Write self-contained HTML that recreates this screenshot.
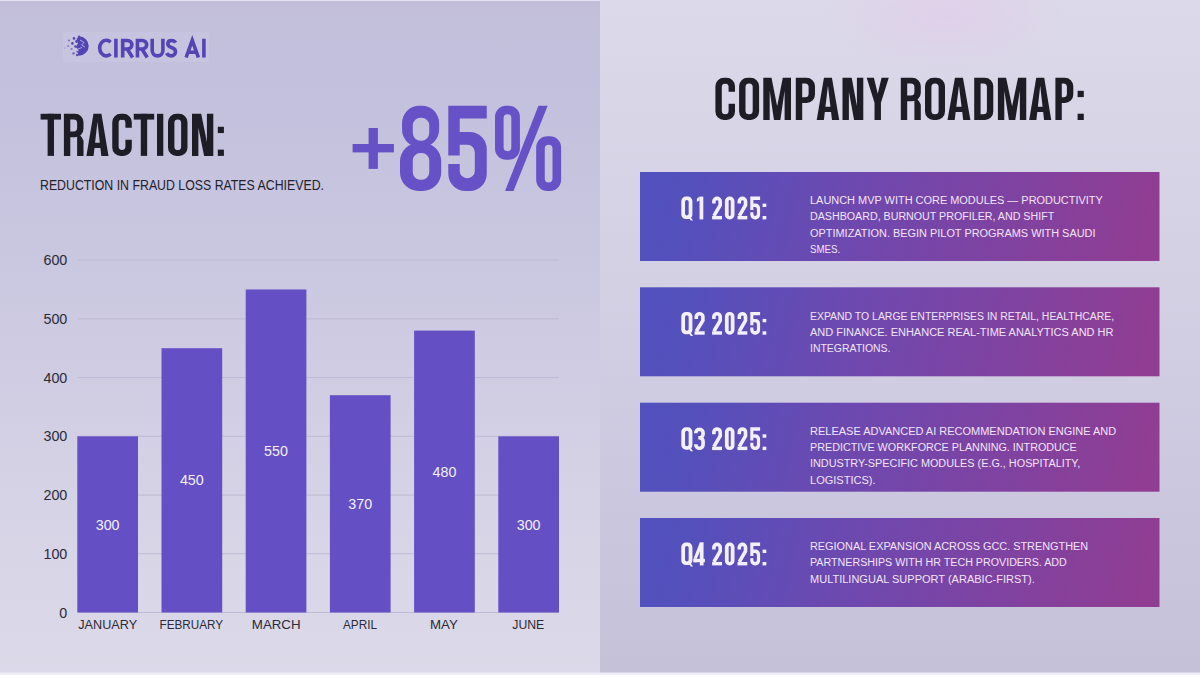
<!DOCTYPE html>
<html><head><meta charset="utf-8"><title>Traction and Roadmap</title>
<style>
html,body{margin:0;padding:0;width:1200px;height:675px;overflow:hidden;background:#d0cde3;}
svg{display:block;}
text{font-family:"Liberation Sans", sans-serif;}
</style></head><body>
<svg width="1200" height="675" viewBox="0 0 1200 675">
<defs>
<linearGradient id="bgL" x1="0" y1="0" x2="0" y2="1">
<stop offset="0" stop-color="#c3bfdb"/>
<stop offset="0.12" stop-color="#c2c0dc"/>
<stop offset="0.43" stop-color="#cbc8e1"/>
<stop offset="0.68" stop-color="#d4d1e5"/>
<stop offset="1" stop-color="#dcdae9"/>
</linearGradient>
<linearGradient id="bgR" x1="0" y1="0" x2="0" y2="1">
<stop offset="0" stop-color="#dcd9ea"/>
<stop offset="0.43" stop-color="#d3d0e4"/>
<stop offset="0.7" stop-color="#ccc8df"/>
<stop offset="1" stop-color="#c5c1d9"/>
</linearGradient>
<radialGradient id="glow" cx="0.5" cy="0.5" r="0.5">
<stop offset="0" stop-color="#e0cfe9" stop-opacity="0.9"/>
<stop offset="1" stop-color="#e0cfe9" stop-opacity="0"/>
</radialGradient>
<linearGradient id="card" x1="0" y1="0" x2="1" y2="0.04">
<stop offset="0" stop-color="#5151bf"/>
<stop offset="0.1" stop-color="#5450bc"/>
<stop offset="0.45" stop-color="#6f48ae"/>
<stop offset="0.95" stop-color="#8d3e95"/>
<stop offset="1" stop-color="#903d93"/>
</linearGradient>
</defs>
<rect x="0" y="0" width="600" height="675" fill="url(#bgL)"/>
<rect x="600" y="0" width="600" height="675" fill="url(#bgR)"/>
<ellipse cx="945" cy="15" rx="120" ry="55" fill="url(#glow)"/>
<rect x="0" y="0" width="600" height="1" fill="#e4e1f4"/>
<rect x="0" y="672.5" width="1200" height="2.5" fill="#eeecf7"/>
<g id="logo">
<rect x="63" y="32" width="146" height="30" fill="#cbc8e3" opacity="0.5"/>
<path d="M79 36.3 A9.7 9.7 0 0 1 79 55.7 L77.5 55 L78.5 50 L76 47 L78 43 L76.5 39 Z" fill="#5245b3"/>
<circle cx="74" cy="38.4" r="1.3" fill="#5548b0"/>
<circle cx="79" cy="36.8" r="1.2" fill="#5548b0"/>
<circle cx="69" cy="40.5" r="1.1" fill="#7d72c4"/>
<circle cx="72.4" cy="43.4" r="1.3" fill="#5548b0"/>
<circle cx="68.2" cy="46" r="1.1" fill="#8a80c8"/>
<circle cx="75.5" cy="46.5" r="1.3" fill="#5548b0"/>
<circle cx="71.6" cy="49" r="1.1" fill="#8076c4"/>
<circle cx="73.5" cy="53.4" r="1.2" fill="#6a5ebb"/>
<circle cx="77" cy="55.2" r="1.1" fill="#5548b0"/>
<circle cx="77.4" cy="51.8" r="1.1" fill="#6a5ebb"/>
<circle cx="76.6" cy="41.5" r="1.4" fill="#5548b0"/>
<circle cx="65" cy="48" r="0.8" fill="#aaa2d6"/>
<path d="M80 40 L84 42.5 L81.5 45 L85 47 M78 49 L82 47.5" stroke="#b9b2ea" stroke-width="0.9" fill="none"/>
<g fill="none" stroke="#5345b3" stroke-width="3.6">
<path d="M110.6 42.2 A6.6 7.8 0 1 0 110.6 54.0"/>
<path d="M115.9 38.75 V57.5"/>
<path d="M122.7 57.5 V40.45 H127.6 A4.3 4.3 0 0 1 127.6 49.05 H122.7 M127.2 49.05 L132.6 57.5"/>
<path d="M137.45 57.5 V40.45 H142.4 A4.3 4.3 0 0 1 142.4 49.05 H137.45 M142 49.05 L147.2 57.5"/>
<path d="M152.2 38.75 V50.6 A5.35 5.3 0 0 0 162.9 50.6 V38.75"/>
<path d="M175.6 42.6 C174.6 40.9 173 40.45 171.4 40.45 C169.1 40.45 167.8 41.9 167.8 43.8 C167.8 46.5 170.4 47.2 172.1 47.8 C174.3 48.5 175.5 49.6 175.5 51.9 C175.5 54.3 173.6 55.85 171.2 55.85 C169.3 55.85 167.6 55 166.6 53.2"/>
<path d="M186.1 57.5 L192.25 40.3 L198.4 57.5 M188.2 52.3 H196.3"/>
<path d="M203.9 38.75 V57.5"/>
</g>
</g>
<path d="M40.60 113.80h20.40v5.79h-20.40Z" fill="#1e1d26" fill-rule="evenodd"/><path d="M47.61 113.80h6.38v42.10h-6.38Z" fill="#1e1d26" fill-rule="evenodd"/><path d="M63.90 113.80H75.02A8.48 8.48 0 0 1 83.50 122.28V128.76A8.48 8.48 0 0 1 75.02 137.24H70.28V155.90H63.90ZM70.28 119.59H73.62A3.49 3.49 0 0 1 77.12 123.08V127.97A3.49 3.49 0 0 1 73.62 131.46H70.28Z" fill="#1e1d26" fill-rule="evenodd"/><path d="M77.12 130.96L82.00 137.74L83.50 140.74L83.50 155.90L77.12 155.90Z" fill="#1e1d26" fill-rule="evenodd"/><path d="M86.40 155.90L93.46 113.80L101.44 113.80L108.50 155.90ZM97.45 121.78L99.82 142.73L95.08 142.73ZM94.48 148.02L100.42 148.02L101.32 155.91L93.58 155.91Z" fill="#1e1d26" fill-rule="evenodd"/><path d="M131.80 127.77V122.28A8.48 8.48 0 0 0 123.32 113.80H120.73A8.48 8.48 0 0 0 112.25 122.28V147.42A8.48 8.48 0 0 0 120.73 155.90H123.32A8.48 8.48 0 0 0 131.80 147.42V139.74H125.42V146.62A3.49 3.49 0 0 1 121.92 150.11H122.13A3.49 3.49 0 0 1 118.63 146.62V123.08A3.49 3.49 0 0 1 122.13 119.59H121.92A3.49 3.49 0 0 1 125.42 123.08V127.77Z" fill="#1e1d26" fill-rule="evenodd"/><path d="M133.75 113.80h20.45v5.79h-20.45Z" fill="#1e1d26" fill-rule="evenodd"/><path d="M140.78 113.80h6.38v42.10h-6.38Z" fill="#1e1d26" fill-rule="evenodd"/><path d="M157.00 113.80h6.30v42.10h-6.30Z" fill="#1e1d26" fill-rule="evenodd"/><path d="M176.48 113.80H179.02A8.48 8.48 0 0 1 187.50 122.28V147.42A8.48 8.48 0 0 1 179.02 155.90H176.48A8.48 8.48 0 0 1 168.00 147.42V122.28A8.48 8.48 0 0 1 176.48 113.80ZM177.75 119.59H177.75A3.37 3.37 0 0 1 181.12 122.95V146.75A3.37 3.37 0 0 1 177.75 150.11H177.75A3.37 3.37 0 0 1 174.38 146.75V122.95A3.37 3.37 0 0 1 177.75 119.59Z" fill="#1e1d26" fill-rule="evenodd"/><path d="M192.00 155.90L192.00 113.80L201.18 113.80L206.92 141.93L206.92 113.80L213.30 113.80L213.30 155.90L204.12 155.90L198.38 127.77L198.38 155.90Z" fill="#1e1d26" fill-rule="evenodd"/><path d="M217.80 126.77h6.10v6.29h-6.10Z" fill="#1e1d26" fill-rule="evenodd"/><path d="M217.80 149.61h6.10v6.29h-6.10Z" fill="#1e1d26" fill-rule="evenodd"/>
<text x="40" y="189.5" font-size="13.8" fill="#23222c" textLength="284" lengthAdjust="spacingAndGlyphs">REDUCTION IN FRAUD LOSS RATES ACHIEVED.</text>
<rect x="352.6" y="144" width="41.3" height="8.4" fill="#6652c6"/><rect x="368.6" y="128" width="9.3" height="40.9" fill="#6652c6"/>
<path d="M419.36 105.70H421.84A17.30 17.30 0 0 1 439.14 123.00V129.68A17.30 17.30 0 0 1 421.84 146.99H419.36A17.30 17.30 0 0 1 402.06 129.68V123.00A17.30 17.30 0 0 1 419.36 105.70ZM420.60 117.64H421.42A7.83 7.83 0 0 1 429.25 125.47V132.84A7.83 7.83 0 0 1 421.42 140.67H420.60A7.83 7.83 0 0 1 412.77 132.84V125.47A7.83 7.83 0 0 1 420.60 117.64Z" fill="#6652c6" fill-rule="evenodd"/><path d="M418.54 142.72H422.66A18.54 18.54 0 0 1 441.20 161.26V172.46A18.54 18.54 0 0 1 422.66 191.00H418.54A18.54 18.54 0 0 1 400.00 172.46V161.26A18.54 18.54 0 0 1 418.54 142.72ZM420.19 153.04H421.84A7.42 7.42 0 0 1 429.25 160.46V172.32A7.42 7.42 0 0 1 421.84 179.74H420.19A7.42 7.42 0 0 1 412.77 172.32V160.46A7.42 7.42 0 0 1 420.19 153.04Z" fill="#6652c6" fill-rule="evenodd"/><path d="M448.30 105.70H486.75V118.50H459.73V131.97H469.69A17.06 17.06 0 0 1 486.75 149.03V173.94A17.06 17.06 0 0 1 469.69 191.00H465.36A17.06 17.06 0 0 1 448.30 173.94V163.96H459.73V170.95A7.25 7.25 0 0 0 466.98 178.21H467.56A7.25 7.25 0 0 0 474.81 170.95V152.02A7.25 7.25 0 0 0 467.56 144.77H459.73V155.52H448.30Z" fill="#6652c6" fill-rule="evenodd"/><path d="M506.21 105.70H508.71A11.21 11.21 0 0 1 519.92 116.91V148.48A11.21 11.21 0 0 1 508.71 159.69H506.21A11.21 11.21 0 0 1 495.00 148.48V116.91A11.21 11.21 0 0 1 506.21 105.70ZM507.46 114.23H507.46A3.87 3.87 0 0 1 511.33 118.10V147.30A3.87 3.87 0 0 1 507.46 151.16H507.46A3.87 3.87 0 0 1 503.59 147.30V118.10A3.87 3.87 0 0 1 507.46 114.23Z" fill="#6652c6" fill-rule="evenodd"/><path d="M547.39 136.32H549.89A11.21 11.21 0 0 1 561.10 147.54V179.79A11.21 11.21 0 0 1 549.89 191.00H547.39A11.21 11.21 0 0 1 536.18 179.79V147.54A11.21 11.21 0 0 1 547.39 136.32ZM548.64 144.85H548.64A3.87 3.87 0 0 1 552.51 148.72V178.60A3.87 3.87 0 0 1 548.64 182.47H548.64A3.87 3.87 0 0 1 544.77 178.60V148.72A3.87 3.87 0 0 1 548.64 144.85Z" fill="#6652c6" fill-rule="evenodd"/><path d="M505.05 191.00L513.51 191.00L547.68 105.70L538.43 105.70Z" fill="#6652c6" fill-rule="evenodd"/>
<text x="67.3" y="617.60" font-size="14.3" fill="#2b2a36" text-anchor="end">0</text>
<line x1="78" y1="553.77" x2="559" y2="553.77" stroke="#bebad3" stroke-width="1"/>
<text x="67.3" y="558.87" font-size="14.3" fill="#2b2a36" text-anchor="end">100</text>
<line x1="78" y1="495.04" x2="559" y2="495.04" stroke="#bebad3" stroke-width="1"/>
<text x="67.3" y="500.14" font-size="14.3" fill="#2b2a36" text-anchor="end">200</text>
<line x1="78" y1="436.31" x2="559" y2="436.31" stroke="#bebad3" stroke-width="1"/>
<text x="67.3" y="441.41" font-size="14.3" fill="#2b2a36" text-anchor="end">300</text>
<line x1="78" y1="377.58" x2="559" y2="377.58" stroke="#bebad3" stroke-width="1"/>
<text x="67.3" y="382.68" font-size="14.3" fill="#2b2a36" text-anchor="end">400</text>
<line x1="78" y1="318.85" x2="559" y2="318.85" stroke="#bebad3" stroke-width="1"/>
<text x="67.3" y="323.95" font-size="14.3" fill="#2b2a36" text-anchor="end">500</text>
<line x1="78" y1="260.12" x2="559" y2="260.12" stroke="#bebad3" stroke-width="1"/>
<text x="67.3" y="265.22" font-size="14.3" fill="#2b2a36" text-anchor="end">600</text>
<line x1="78" y1="612.50" x2="559" y2="612.50" stroke="#bebad3" stroke-width="1"/>
<rect x="77.30" y="436.31" width="60.7" height="176.19" fill="#6450c4"/>
<text x="107.65" y="529.50" font-size="14.3" fill="#f2effa" text-anchor="middle">300</text>
<text x="78.20" y="629.40" font-size="13.5" fill="#2b2a36" textLength="59.0" lengthAdjust="spacingAndGlyphs">JANUARY</text>
<rect x="161.50" y="348.21" width="60.7" height="264.29" fill="#6450c4"/>
<text x="191.85" y="485.46" font-size="14.3" fill="#f2effa" text-anchor="middle">450</text>
<text x="159.50" y="629.40" font-size="13.5" fill="#2b2a36" textLength="63.7" lengthAdjust="spacingAndGlyphs">FEBRUARY</text>
<rect x="245.70" y="289.48" width="60.7" height="323.02" fill="#6450c4"/>
<text x="276.05" y="456.09" font-size="14.3" fill="#f2effa" text-anchor="middle">550</text>
<text x="251.80" y="629.40" font-size="13.5" fill="#2b2a36" textLength="48.8" lengthAdjust="spacingAndGlyphs">MARCH</text>
<rect x="329.90" y="395.20" width="60.7" height="217.30" fill="#6450c4"/>
<text x="360.25" y="508.95" font-size="14.3" fill="#f2effa" text-anchor="middle">370</text>
<text x="343.00" y="629.40" font-size="13.5" fill="#2b2a36" textLength="34.0" lengthAdjust="spacingAndGlyphs">APRIL</text>
<rect x="414.10" y="330.60" width="60.7" height="281.90" fill="#6450c4"/>
<text x="444.45" y="476.65" font-size="14.3" fill="#f2effa" text-anchor="middle">480</text>
<text x="430.00" y="629.40" font-size="13.5" fill="#2b2a36" textLength="27.8" lengthAdjust="spacingAndGlyphs">MAY</text>
<rect x="498.30" y="436.31" width="60.7" height="176.19" fill="#6450c4"/>
<text x="528.65" y="529.50" font-size="14.3" fill="#f2effa" text-anchor="middle">300</text>
<text x="512.30" y="629.40" font-size="13.5" fill="#2b2a36" textLength="32.0" lengthAdjust="spacingAndGlyphs">JUNE</text>
<path d="M735.00 91.80V86.30A8.50 8.50 0 0 0 726.50 77.80H723.90A8.50 8.50 0 0 0 715.40 86.30V111.50A8.50 8.50 0 0 0 723.90 120.00H726.50A8.50 8.50 0 0 0 735.00 111.50V103.80H728.60V110.70A3.50 3.50 0 0 1 725.10 114.20H725.30A3.50 3.50 0 0 1 721.80 110.70V87.10A3.50 3.50 0 0 1 725.30 83.60H725.10A3.50 3.50 0 0 1 728.60 87.10V91.80Z" fill="#1e1d26" fill-rule="evenodd"/><path d="M747.60 77.80H750.60A8.50 8.50 0 0 1 759.10 86.30V111.50A8.50 8.50 0 0 1 750.60 120.00H747.60A8.50 8.50 0 0 1 739.10 111.50V86.30A8.50 8.50 0 0 1 747.60 77.80ZM749.00 83.60H749.20A3.50 3.50 0 0 1 752.70 87.10V110.70A3.50 3.50 0 0 1 749.20 114.20H749.00A3.50 3.50 0 0 1 745.50 110.70V87.10A3.50 3.50 0 0 1 749.00 83.60Z" fill="#1e1d26" fill-rule="evenodd"/><path d="M763.30 120.00L763.30 77.80L771.50 77.80L777.15 106.30L782.80 77.80L791.00 77.80L791.00 120.00L784.60 120.00L784.60 90.80L780.35 120.00L773.95 120.00L769.70 90.80L769.70 120.00Z" fill="#1e1d26" fill-rule="evenodd"/><path d="M795.80 77.80H806.50A8.50 8.50 0 0 1 815.00 86.30V94.50A8.50 8.50 0 0 1 806.50 103.00H802.20V120.00H795.80ZM802.20 83.60H805.10A3.50 3.50 0 0 1 808.60 87.10V93.70A3.50 3.50 0 0 1 805.10 97.20H802.20Z" fill="#1e1d26" fill-rule="evenodd"/><path d="M816.70 120.00L823.95 77.80L831.95 77.80L839.20 120.00ZM827.95 85.80L830.44 106.80L825.46 106.80ZM824.84 112.10L831.06 112.10L832.00 120.01L823.90 120.01Z" fill="#1e1d26" fill-rule="evenodd"/><path d="M842.50 120.00L842.50 77.80L851.70 77.80L856.90 106.00L856.90 77.80L863.30 77.80L863.30 120.00L854.10 120.00L848.90 91.80L848.90 120.00Z" fill="#1e1d26" fill-rule="evenodd"/><path d="M866.70 77.80L873.90 77.80L877.73 93.80L881.55 77.80L888.75 77.80L880.93 102.80L880.93 120.00L874.52 120.00L874.52 102.80Z" fill="#1e1d26" fill-rule="evenodd"/><path d="M900.80 77.80H912.30A8.50 8.50 0 0 1 920.80 86.30V92.80A8.50 8.50 0 0 1 912.30 101.30H907.20V120.00H900.80ZM907.20 83.60H910.90A3.50 3.50 0 0 1 914.40 87.10V92.00A3.50 3.50 0 0 1 910.90 95.50H907.20Z" fill="#1e1d26" fill-rule="evenodd"/><path d="M914.40 95.00L919.30 101.80L920.80 104.80L920.80 120.00L914.40 120.00Z" fill="#1e1d26" fill-rule="evenodd"/><path d="M933.50 77.80H936.50A8.50 8.50 0 0 1 945.00 86.30V111.50A8.50 8.50 0 0 1 936.50 120.00H933.50A8.50 8.50 0 0 1 925.00 111.50V86.30A8.50 8.50 0 0 1 933.50 77.80ZM934.90 83.60H935.10A3.50 3.50 0 0 1 938.60 87.10V110.70A3.50 3.50 0 0 1 935.10 114.20H934.90A3.50 3.50 0 0 1 931.40 110.70V87.10A3.50 3.50 0 0 1 934.90 83.60Z" fill="#1e1d26" fill-rule="evenodd"/><path d="M947.50 120.00L954.95 77.80L962.95 77.80L970.40 120.00ZM958.95 85.80L961.56 106.80L956.34 106.80ZM955.68 112.10L962.22 112.10L963.20 120.01L954.70 120.01Z" fill="#1e1d26" fill-rule="evenodd"/><path d="M974.20 77.80H984.80A8.50 8.50 0 0 1 993.30 86.30V111.50A8.50 8.50 0 0 1 984.80 120.00H974.20ZM980.60 83.60H983.40A3.50 3.50 0 0 1 986.90 87.10V110.70A3.50 3.50 0 0 1 983.40 114.20H980.60Z" fill="#1e1d26" fill-rule="evenodd"/><path d="M997.90 120.00L997.90 77.80L1006.10 77.80L1012.08 106.30L1018.05 77.80L1026.25 77.80L1026.25 120.00L1019.85 120.00L1019.85 90.80L1015.28 120.00L1008.88 120.00L1004.30 90.80L1004.30 120.00Z" fill="#1e1d26" fill-rule="evenodd"/><path d="M1029.20 120.00L1036.22 77.80L1044.22 77.80L1051.25 120.00ZM1040.22 85.80L1042.57 106.80L1037.88 106.80ZM1037.28 112.10L1043.17 112.10L1044.05 120.01L1036.40 120.01Z" fill="#1e1d26" fill-rule="evenodd"/><path d="M1055.40 77.80H1064.80A8.50 8.50 0 0 1 1073.30 86.30V94.50A8.50 8.50 0 0 1 1064.80 103.00H1061.80V120.00H1055.40ZM1061.80 83.60H1063.40A3.50 3.50 0 0 1 1066.90 87.10V93.70A3.50 3.50 0 0 1 1063.40 97.20H1061.80Z" fill="#1e1d26" fill-rule="evenodd"/><path d="M1077.60 90.80h6.20v6.30h-6.20Z" fill="#1e1d26" fill-rule="evenodd"/><path d="M1077.60 113.70h6.20v6.30h-6.20Z" fill="#1e1d26" fill-rule="evenodd"/>
<rect x="640" y="172.00" width="519.5" height="89" fill="url(#card)"/>
<path d="M685.89 196.60H687.81A4.59 4.59 0 0 1 692.40 201.19V214.38A4.59 4.59 0 0 1 687.81 218.97H685.89A4.59 4.59 0 0 1 681.30 214.38V201.19A4.59 4.59 0 0 1 685.89 196.60ZM686.85 200.05H686.85A1.80 1.80 0 0 1 688.65 201.85V213.72A1.80 1.80 0 0 1 686.85 215.52H686.85A1.80 1.80 0 0 1 685.05 213.72V201.85A1.80 1.80 0 0 1 686.85 200.05Z" fill="#f4f0fb" fill-rule="evenodd"/><path d="M687.12 215.62L689.28 215.62L693.05 220.59L690.78 220.59Z" fill="#f4f0fb" fill-rule="evenodd"/><path d="M699.55 196.60h3.75v22.80h-3.75Z" fill="#f4f0fb" fill-rule="evenodd"/><path d="M696.90 198.76L699.55 196.60L699.55 200.38L696.90 201.73Z" fill="#f4f0fb" fill-rule="evenodd"/><path d="M712.10 215.95h9.90v3.45h-9.90Z" fill="#f4f0fb" fill-rule="evenodd"/><path d="M713.90 203.62V201.23A3.15 2.83 0 0 1 720.20 201.23V205.24L713.90 215.95" fill="none" stroke="#f4f0fb" stroke-width="3.60" stroke-linejoin="miter"/><path d="M729.49 196.60H729.91A4.59 4.59 0 0 1 734.50 201.19V214.81A4.59 4.59 0 0 1 729.91 219.40H729.49A4.59 4.59 0 0 1 724.90 214.81V201.19A4.59 4.59 0 0 1 729.49 196.60ZM729.70 200.05H729.70A1.05 1.05 0 0 1 730.75 201.10V214.90A1.05 1.05 0 0 1 729.70 215.95H729.70A1.05 1.05 0 0 1 728.65 214.90V201.10A1.05 1.05 0 0 1 729.70 200.05Z" fill="#f4f0fb" fill-rule="evenodd"/><path d="M737.50 215.95h9.80v3.45h-9.80Z" fill="#f4f0fb" fill-rule="evenodd"/><path d="M739.30 203.62V201.19A3.10 2.79 0 0 1 745.50 201.19V205.24L739.30 215.95" fill="none" stroke="#f4f0fb" stroke-width="3.60" stroke-linejoin="miter"/><path d="M750.30 196.60H760.10V200.02H753.36V203.62H755.54A4.56 4.56 0 0 1 760.10 208.18V214.84A4.56 4.56 0 0 1 755.54 219.40H754.86A4.56 4.56 0 0 1 750.30 214.84V212.17H753.36V214.04A1.94 1.94 0 0 0 755.29 215.98H754.97A1.94 1.94 0 0 0 756.91 214.04V208.98A1.94 1.94 0 0 0 754.97 207.04H753.36V209.92H750.30Z" fill="#f4f0fb" fill-rule="evenodd"/><path d="M762.60 203.62h3.70v3.40h-3.70Z" fill="#f4f0fb" fill-rule="evenodd"/><path d="M762.60 216.00h3.70v3.40h-3.70Z" fill="#f4f0fb" fill-rule="evenodd"/>
<text x="810" y="204.20" font-size="11.7" fill="#f2e4fa" textLength="292.8" lengthAdjust="spacingAndGlyphs">LAUNCH MVP WITH CORE MODULES — PRODUCTIVITY</text>
<text x="810" y="220.40" font-size="11.7" fill="#f2e4fa" textLength="244.2" lengthAdjust="spacingAndGlyphs">DASHBOARD, BURNOUT PROFILER, AND SHIFT</text>
<text x="810" y="236.60" font-size="11.7" fill="#f2e4fa" textLength="285.5" lengthAdjust="spacingAndGlyphs">OPTIMIZATION. BEGIN PILOT PROGRAMS WITH SAUDI</text>
<text x="810" y="252.80" font-size="11.7" fill="#f2e4fa" textLength="30.3" lengthAdjust="spacingAndGlyphs">SMES.</text>
<rect x="640" y="287.30" width="519.5" height="89" fill="url(#card)"/>
<path d="M685.89 311.90H687.81A4.59 4.59 0 0 1 692.40 316.49V329.68A4.59 4.59 0 0 1 687.81 334.27H685.89A4.59 4.59 0 0 1 681.30 329.68V316.49A4.59 4.59 0 0 1 685.89 311.90ZM686.85 315.35H686.85A1.80 1.80 0 0 1 688.65 317.15V329.02A1.80 1.80 0 0 1 686.85 330.82H686.85A1.80 1.80 0 0 1 685.05 329.02V317.15A1.80 1.80 0 0 1 686.85 315.35Z" fill="#f4f0fb" fill-rule="evenodd"/><path d="M687.12 330.92L689.28 330.92L693.05 335.89L690.78 335.89Z" fill="#f4f0fb" fill-rule="evenodd"/><path d="M694.50 331.25h10.20v3.45h-10.20Z" fill="#f4f0fb" fill-rule="evenodd"/><path d="M696.30 318.92V316.67A3.30 2.97 0 0 1 702.90 316.67V320.54L696.30 331.25" fill="none" stroke="#f4f0fb" stroke-width="3.60" stroke-linejoin="miter"/><path d="M712.10 331.25h9.90v3.45h-9.90Z" fill="#f4f0fb" fill-rule="evenodd"/><path d="M713.90 318.92V316.54A3.15 2.83 0 0 1 720.20 316.54V320.54L713.90 331.25" fill="none" stroke="#f4f0fb" stroke-width="3.60" stroke-linejoin="miter"/><path d="M729.49 311.90H729.91A4.59 4.59 0 0 1 734.50 316.49V330.11A4.59 4.59 0 0 1 729.91 334.70H729.49A4.59 4.59 0 0 1 724.90 330.11V316.49A4.59 4.59 0 0 1 729.49 311.90ZM729.70 315.35H729.70A1.05 1.05 0 0 1 730.75 316.40V330.20A1.05 1.05 0 0 1 729.70 331.25H729.70A1.05 1.05 0 0 1 728.65 330.20V316.40A1.05 1.05 0 0 1 729.70 315.35Z" fill="#f4f0fb" fill-rule="evenodd"/><path d="M737.50 331.25h9.80v3.45h-9.80Z" fill="#f4f0fb" fill-rule="evenodd"/><path d="M739.30 318.92V316.49A3.10 2.79 0 0 1 745.50 316.49V320.54L739.30 331.25" fill="none" stroke="#f4f0fb" stroke-width="3.60" stroke-linejoin="miter"/><path d="M750.30 311.90H760.10V315.32H753.36V318.92H755.54A4.56 4.56 0 0 1 760.10 323.48V330.14A4.56 4.56 0 0 1 755.54 334.70H754.86A4.56 4.56 0 0 1 750.30 330.14V327.47H753.36V329.34A1.94 1.94 0 0 0 755.29 331.28H754.97A1.94 1.94 0 0 0 756.91 329.34V324.28A1.94 1.94 0 0 0 754.97 322.34H753.36V325.22H750.30Z" fill="#f4f0fb" fill-rule="evenodd"/><path d="M762.60 318.92h3.70v3.40h-3.70Z" fill="#f4f0fb" fill-rule="evenodd"/><path d="M762.60 331.30h3.70v3.40h-3.70Z" fill="#f4f0fb" fill-rule="evenodd"/>
<text x="810" y="319.50" font-size="11.7" fill="#f2e4fa" textLength="304.2" lengthAdjust="spacingAndGlyphs">EXPAND TO LARGE ENTERPRISES IN RETAIL, HEALTHCARE,</text>
<text x="810" y="335.70" font-size="11.7" fill="#f2e4fa" textLength="303.5" lengthAdjust="spacingAndGlyphs">AND FINANCE. ENHANCE REAL-TIME ANALYTICS AND HR</text>
<text x="810" y="351.90" font-size="11.7" fill="#f2e4fa" textLength="80.5" lengthAdjust="spacingAndGlyphs">INTEGRATIONS.</text>
<rect x="640" y="402.70" width="519.5" height="89" fill="url(#card)"/>
<path d="M685.89 427.30H687.81A4.59 4.59 0 0 1 692.40 431.89V445.08A4.59 4.59 0 0 1 687.81 449.67H685.89A4.59 4.59 0 0 1 681.30 445.08V431.89A4.59 4.59 0 0 1 685.89 427.30ZM686.85 430.75H686.85A1.80 1.80 0 0 1 688.65 432.55V444.42A1.80 1.80 0 0 1 686.85 446.22H686.85A1.80 1.80 0 0 1 685.05 444.42V432.55A1.80 1.80 0 0 1 686.85 430.75Z" fill="#f4f0fb" fill-rule="evenodd"/><path d="M687.12 446.32L689.28 446.32L693.05 451.29L690.78 451.29Z" fill="#f4f0fb" fill-rule="evenodd"/><path d="M695.80 433.24V432.88A3.78 3.78 0 0 1 699.58 429.10H699.32A3.78 3.78 0 0 1 703.10 432.88V434.01A3.78 3.78 0 0 1 699.32 437.79H698.32 M699.32 437.79A3.78 3.78 0 0 1 703.10 441.57V444.52A3.78 3.78 0 0 1 699.32 448.30H699.58A3.78 3.78 0 0 1 695.80 444.52V444.16" fill="none" stroke="#f4f0fb" stroke-width="3.60"/><path d="M712.10 446.65h9.90v3.45h-9.90Z" fill="#f4f0fb" fill-rule="evenodd"/><path d="M713.90 434.32V431.94A3.15 2.83 0 0 1 720.20 431.94V435.94L713.90 446.65" fill="none" stroke="#f4f0fb" stroke-width="3.60" stroke-linejoin="miter"/><path d="M729.49 427.30H729.91A4.59 4.59 0 0 1 734.50 431.89V445.51A4.59 4.59 0 0 1 729.91 450.10H729.49A4.59 4.59 0 0 1 724.90 445.51V431.89A4.59 4.59 0 0 1 729.49 427.30ZM729.70 430.75H729.70A1.05 1.05 0 0 1 730.75 431.80V445.60A1.05 1.05 0 0 1 729.70 446.65H729.70A1.05 1.05 0 0 1 728.65 445.60V431.80A1.05 1.05 0 0 1 729.70 430.75Z" fill="#f4f0fb" fill-rule="evenodd"/><path d="M737.50 446.65h9.80v3.45h-9.80Z" fill="#f4f0fb" fill-rule="evenodd"/><path d="M739.30 434.32V431.89A3.10 2.79 0 0 1 745.50 431.89V435.94L739.30 446.65" fill="none" stroke="#f4f0fb" stroke-width="3.60" stroke-linejoin="miter"/><path d="M750.30 427.30H760.10V430.72H753.36V434.32H755.54A4.56 4.56 0 0 1 760.10 438.88V445.54A4.56 4.56 0 0 1 755.54 450.10H754.86A4.56 4.56 0 0 1 750.30 445.54V442.87H753.36V444.74A1.94 1.94 0 0 0 755.29 446.68H754.97A1.94 1.94 0 0 0 756.91 444.74V439.68A1.94 1.94 0 0 0 754.97 437.74H753.36V440.62H750.30Z" fill="#f4f0fb" fill-rule="evenodd"/><path d="M762.60 434.32h3.70v3.40h-3.70Z" fill="#f4f0fb" fill-rule="evenodd"/><path d="M762.60 446.70h3.70v3.40h-3.70Z" fill="#f4f0fb" fill-rule="evenodd"/>
<text x="810" y="434.90" font-size="11.7" fill="#f2e4fa" textLength="306.2" lengthAdjust="spacingAndGlyphs">RELEASE ADVANCED AI RECOMMENDATION ENGINE AND</text>
<text x="810" y="451.10" font-size="11.7" fill="#f2e4fa" textLength="266.8" lengthAdjust="spacingAndGlyphs">PREDICTIVE WORKFORCE PLANNING. INTRODUCE</text>
<text x="810" y="467.30" font-size="11.7" fill="#f2e4fa" textLength="270.2" lengthAdjust="spacingAndGlyphs">INDUSTRY-SPECIFIC MODULES (E.G., HOSPITALITY,</text>
<text x="810" y="483.50" font-size="11.7" fill="#f2e4fa" textLength="65.5" lengthAdjust="spacingAndGlyphs">LOGISTICS).</text>
<rect x="640" y="518.00" width="519.5" height="89" fill="url(#card)"/>
<path d="M685.89 542.60H687.81A4.59 4.59 0 0 1 692.40 547.19V560.38A4.59 4.59 0 0 1 687.81 564.97H685.89A4.59 4.59 0 0 1 681.30 560.38V547.19A4.59 4.59 0 0 1 685.89 542.60ZM686.85 546.05H686.85A1.80 1.80 0 0 1 688.65 547.85V559.72A1.80 1.80 0 0 1 686.85 561.52H686.85A1.80 1.80 0 0 1 685.05 559.72V547.85A1.80 1.80 0 0 1 686.85 546.05Z" fill="#f4f0fb" fill-rule="evenodd"/><path d="M687.12 561.62L689.28 561.62L693.05 566.59L690.78 566.59Z" fill="#f4f0fb" fill-rule="evenodd"/><path d="M699.80 542.60h3.75v22.80h-3.75Z" fill="#f4f0fb" fill-rule="evenodd"/><path d="M699.80 542.60L703.55 542.60L696.88 558.81L693.50 558.81Z" fill="#f4f0fb" fill-rule="evenodd"/><path d="M693.50 558.81h11.40v3.45h-11.40Z" fill="#f4f0fb" fill-rule="evenodd"/><path d="M693.50 558.81L696.88 558.81L696.88 562.26L693.50 562.26Z" fill="#f4f0fb" fill-rule="evenodd"/><path d="M712.10 561.95h9.90v3.45h-9.90Z" fill="#f4f0fb" fill-rule="evenodd"/><path d="M713.90 549.62V547.24A3.15 2.83 0 0 1 720.20 547.24V551.24L713.90 561.95" fill="none" stroke="#f4f0fb" stroke-width="3.60" stroke-linejoin="miter"/><path d="M729.49 542.60H729.91A4.59 4.59 0 0 1 734.50 547.19V560.81A4.59 4.59 0 0 1 729.91 565.40H729.49A4.59 4.59 0 0 1 724.90 560.81V547.19A4.59 4.59 0 0 1 729.49 542.60ZM729.70 546.05H729.70A1.05 1.05 0 0 1 730.75 547.10V560.90A1.05 1.05 0 0 1 729.70 561.95H729.70A1.05 1.05 0 0 1 728.65 560.90V547.10A1.05 1.05 0 0 1 729.70 546.05Z" fill="#f4f0fb" fill-rule="evenodd"/><path d="M737.50 561.95h9.80v3.45h-9.80Z" fill="#f4f0fb" fill-rule="evenodd"/><path d="M739.30 549.62V547.19A3.10 2.79 0 0 1 745.50 547.19V551.24L739.30 561.95" fill="none" stroke="#f4f0fb" stroke-width="3.60" stroke-linejoin="miter"/><path d="M750.30 542.60H760.10V546.02H753.36V549.62H755.54A4.56 4.56 0 0 1 760.10 554.18V560.84A4.56 4.56 0 0 1 755.54 565.40H754.86A4.56 4.56 0 0 1 750.30 560.84V558.17H753.36V560.04A1.94 1.94 0 0 0 755.29 561.98H754.97A1.94 1.94 0 0 0 756.91 560.04V554.98A1.94 1.94 0 0 0 754.97 553.04H753.36V555.92H750.30Z" fill="#f4f0fb" fill-rule="evenodd"/><path d="M762.60 549.62h3.70v3.40h-3.70Z" fill="#f4f0fb" fill-rule="evenodd"/><path d="M762.60 562.00h3.70v3.40h-3.70Z" fill="#f4f0fb" fill-rule="evenodd"/>
<text x="810" y="550.20" font-size="11.7" fill="#f2e4fa" textLength="278.2" lengthAdjust="spacingAndGlyphs">REGIONAL EXPANSION ACROSS GCC. STRENGTHEN</text>
<text x="810" y="566.40" font-size="11.7" fill="#f2e4fa" textLength="256.8" lengthAdjust="spacingAndGlyphs">PARTNERSHIPS WITH HR TECH PROVIDERS. ADD</text>
<text x="810" y="582.60" font-size="11.7" fill="#f2e4fa" textLength="224.8" lengthAdjust="spacingAndGlyphs">MULTILINGUAL SUPPORT (ARABIC-FIRST).</text>
</svg>
</body></html>
